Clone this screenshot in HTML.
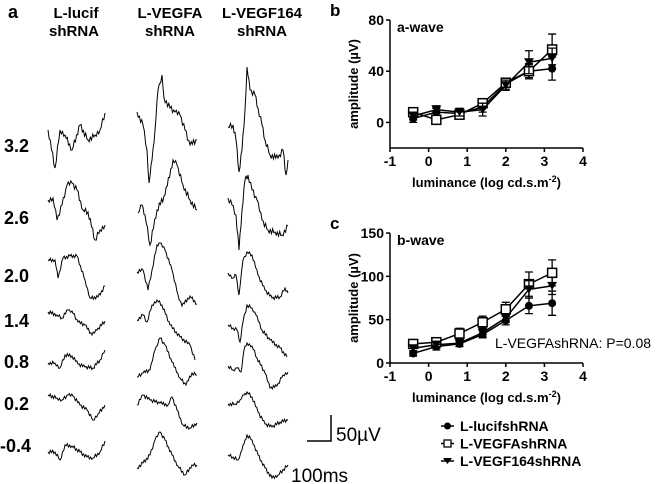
<!DOCTYPE html>
<html><head><meta charset="utf-8"><style>
body{margin:0;background:#fff;}
svg{display:block;font-family:"Liberation Sans",Arial,sans-serif;}
.b{font-weight:bold;}
</style></head><body>
<svg id="fig" width="660" height="484" viewBox="0 0 660 484">
<g id="panelA">
<text x="8" y="18" font-size="18" class="b">a</text>
<text x="76" y="18" font-size="15" class="b" text-anchor="middle">L-lucif</text>
<text x="74" y="36" font-size="15" class="b" text-anchor="middle">shRNA</text>
<text x="170" y="18" font-size="15" class="b" text-anchor="middle">L-VEGFA</text>
<text x="170" y="36" font-size="15" class="b" text-anchor="middle">shRNA</text>
<text x="262" y="18" font-size="15" class="b" text-anchor="middle">L-VEGF164</text>
<text x="262" y="36" font-size="15" class="b" text-anchor="middle">shRNA</text>
<g font-size="18" class="b">
<text x="4" y="152">3.2</text>
<text x="4" y="224">2.6</text>
<text x="4" y="282">2.0</text>
<text x="4" y="327">1.4</text>
<text x="4" y="368">0.8</text>
<text x="4" y="410">0.2</text>
<text x="0" y="452">-0.4</text>
</g>
<path d="M331 415 V441 H307" fill="none" stroke="#000" stroke-width="1.5"/>
<text x="336" y="441" font-size="19">50µV</text>
<text x="291" y="482" font-size="19">100ms</text>
</g>
<g id="panelB"></g>
<g id="panelC"></g>
<g id="legend"></g>
</svg>
<script>
const NS="http://www.w3.org/2000/svg";
const xVals=[-0.4,0.2,0.8,1.4,2.0,2.6,3.2];
const aLucif=[3,8,7,12,30,40,42];
const aLucifErr=[3,3,3,4,4,6,9];
const aVegfa=[8,2,6,15,31,40,57];
const aVegfaErr=[3,3,3,3,3,5,12];
const aVegf164=[5,10,8,10,29,47,50];
const aVegf164Err=[3,3,3,5,4,9,8];
const bLucif=[11,19,22,33,49,66,69];
const bLucifErr=[3,4,3,4,5,9,14];
const bVegfa=[22,24,34,47,62,91,104];
const bVegfaErr=[3,4,6,7,8,14,15];
const bVegf164=[17,21,23,35,52,85,89];
const bVegf164Err=[3,4,4,5,5,10,10];
const xTicks=[-1,0,1,2,3,4];
const aTicks=[0,40,80];
const bTicks=[0,50,100,150];
const seriesNames=["L-lucifshRNA","L-VEGFAshRNA","L-VEGF164shRNA"];

const traces=[
[[48,130],[55,168],[60,130],[65,135],[72,150],[80,125],[88,140],[95,135],[100,130],[105,113]],
[[48,200],[53,198],[57,220],[62,205],[67,185],[72,183],[77,190],[83,210],[88,212],[95,240],[100,230],[105,225]],
[[48,260],[55,260],[58,278],[63,258],[70,256],[77,256],[85,280],[90,298],[98,297],[105,286]],
[[48,312],[57,315],[62,318],[68,310],[72,311],[78,322],[85,325],[92,335],[97,330],[105,321]],
[[48,363],[55,363],[60,368],[65,355],[72,356],[78,364],[85,367],[93,368],[100,360],[105,350]],
[[48,395],[57,398],[62,400],[68,395],[73,396],[80,405],[87,410],[93,420],[98,414],[105,405]],
[[48,452],[55,452],[60,460],[65,445],[72,446],[80,452],[87,457],[93,458],[100,452],[105,441]],
[[137,112],[143,125],[147,150],[149,183],[152,160],[155,130],[158,90],[162,75],[164,98],[170,108],[175,112],[180,115],[185,130],[190,145],[197,140]],
[[138,213],[142,205],[145,215],[150,245],[157,210],[165,195],[173,160],[177,165],[183,185],[190,200],[197,210]],
[[137,272],[143,270],[148,290],[152,270],[157,245],[160,243],[165,250],[172,270],[178,295],[182,306],[190,296],[197,304]],
[[137,320],[143,315],[147,322],[152,305],[157,300],[162,305],[170,325],[180,337],[190,345],[195,360]],
[[137,377],[143,373],[150,370],[155,350],[160,338],[165,345],[172,362],[180,378],[186,385],[192,373],[197,375]],
[[137,405],[143,395],[150,400],[160,403],[168,405],[172,397],[177,410],[183,425],[190,428],[197,423]],
[[137,468],[143,463],[150,455],[155,440],[160,432],[165,440],[172,455],[178,466],[185,475],[192,465],[197,465]],
[[228,127],[233,125],[236,140],[239,172],[242,150],[245,110],[247,67],[250,90],[255,95],[258,108],[262,125],[265,140],[270,155],[278,158],[283,150],[286,175],[288,160]],
[[228,198],[232,205],[236,215],[239,250],[242,210],[245,180],[248,175],[252,190],[257,200],[262,220],[268,230],[275,232],[282,235],[288,226]],
[[228,273],[233,278],[236,275],[239,295],[243,260],[247,252],[252,255],[258,275],[265,290],[272,298],[280,297],[285,288],[288,293]],
[[228,325],[233,328],[237,330],[240,342],[243,322],[247,305],[252,308],[256,315],[262,330],[270,340],[280,348],[287,357]],
[[228,366],[233,370],[237,368],[241,372],[244,350],[247,343],[252,346],[257,358],[265,373],[270,388],[277,386],[283,375],[288,372]],
[[228,404],[235,404],[240,400],[244,395],[247,392],[252,397],[258,412],[265,424],[272,427],[280,422],[288,420]],
[[228,455],[233,457],[238,460],[242,450],[245,440],[247,435],[252,440],[258,455],[265,468],[272,478],[278,475],[288,465]]
];
function mk(tag,attrs,parent){const e=document.createElementNS(NS,tag);for(const k in attrs)e.setAttribute(k,attrs[k]);parent.appendChild(e);return e;}
const pA=document.getElementById("panelA");
traces.forEach((t,ti)=>{
  let d="";let n=0;
  const big=(ti<2||ti===7||ti===8||ti===14||ti===15)?2.6:1.6;
  for(let i=0;i<t.length-1;i++){
    const [x0,y0]=t[i],[x1,y1]=t[i+1];
    const steps=Math.max(1,Math.round((x1-x0)/1.2));
    for(let s=0;s<steps;s++){
      const f=s/steps;const j=((n%2)?big:-big)*(((n*7+ti)%3===0)?0.4:1);
      d+=(d?"L":"M")+(x0+(x1-x0)*f).toFixed(1)+" "+(y0+(y1-y0)*f+(s?j:0)).toFixed(1);n++;
    }
  }
  const l=t[t.length-1];d+="L"+l[0]+" "+l[1];
  const p=mk("path",{d:d,fill:"none",stroke:"#000","stroke-width":1},pA);
  
  
});

function marker(g,type,x,y){
  let m;
  if(type===0)m=mk("circle",{cx:x,cy:y,r:4,fill:"#000"},g);
  else if(type===1)m=mk("rect",{x:x-4.5,y:y-4.5,width:9,height:9,fill:"#fff",stroke:"#000","stroke-width":1.5},g);
  else m=mk("path",{d:`M${x-5} ${y-4}L${x+5} ${y-4}L${x} ${y+4}Z`,fill:"#000"},g);
  
  
}
function panel(gid,label,wave,y0px,y1px,yMin,yMax,ticks,series,errs){
  const g=document.getElementById(gid);
  const x0=390,x1=583;
  const sx=v=>x0+(v+1)/5*(x1-x0);
  const sy=v=>y1px-(v-yMin)/(yMax-yMin)*(y1px-y0px);
  const ax=mk("path",{d:`M${x0} ${y0px}V${y1px}H${x1}`,fill:"none",stroke:"#000","stroke-width":1.5},g);
  
  
  ticks.forEach(t=>{
    mk("line",{x1:x0-4,x2:x0,y1:sy(t),y2:sy(t),stroke:"#000","stroke-width":1.5},g);
    const tx=mk("text",{x:x0-6,y:sy(t)+5,"font-size":14,"font-weight":"bold","text-anchor":"end"},g);tx.textContent=t;
    
    
  });
  xTicks.forEach(t=>{
    mk("line",{x1:sx(t),x2:sx(t),y1:y1px,y2:y1px+4,stroke:"#000","stroke-width":1.5},g);
    const tx=mk("text",{x:sx(t),y:y1px+18,"font-size":14,"font-weight":"bold","text-anchor":"middle"},g);tx.textContent=t;
    
    
  });
  const pl=mk("text",{x:330,y:y0px-4,"font-size":17,"font-weight":"bold"},g);pl.textContent=label;
  
  
  const wl=mk("text",{x:x0+7,y:y0px+12,"font-size":14,"font-weight":"bold"},g);wl.textContent=wave;
  
  
  const xt=mk("text",{x:(x0+x1)/2,y:y1px+39,"font-size":13,"font-weight":"bold","text-anchor":"middle"},g);
  xt.innerHTML='luminance (log cd.s.m<tspan dy="-5" font-size="9">-2</tspan><tspan dy="5">)</tspan>';
  
  
  const cy=(y0px+y1px)/2;
  const yt=mk("text",{x:358,y:cy,"font-size":13,"font-weight":"bold","text-anchor":"middle",transform:`rotate(-90 358 ${cy})`},g);
  yt.textContent="amplitude (µV)";
  
  
  series.forEach((s,si)=>{
    const sg=mk("g",{},g);
    
    
    const pts=s.map((v,i)=>sx(xVals[i])+","+sy(v)).join(" ");
    const ln=mk("polyline",{points:pts,fill:"none",stroke:"#000","stroke-width":1.5},sg);
    
    
    s.forEach((v,i)=>{
      const e=errs[si][i],x=sx(xVals[i]);
      const eb=mk("path",{d:`M${x} ${sy(v-e)}V${sy(v+e)}M${x-4} ${sy(v-e)}H${x+4}M${x-4} ${sy(v+e)}H${x+4}`,stroke:"#000","stroke-width":1.3,fill:"none"},sg);
      
      
    });
    s.forEach((v,i)=>marker(sg,si,sx(xVals[i]),sy(v)));
  });
  return g;
}
panel("panelB","b","a-wave",20,148,-20,80,aTicks,[aLucif,aVegfa,aVegf164],[aLucifErr,aVegfaErr,aVegf164Err]);
const gc=panel("panelC","c","b-wave",233,363,0,150,bTicks,[bLucif,bVegfa,bVegf164],[bLucifErr,bVegfaErr,bVegf164Err]);
const pt=mk("text",{x:495,y:348,"font-size":14},gc);pt.textContent="L-VEGFAshRNA: P=0.08";


const lg=document.getElementById("legend");
seriesNames.forEach((n,i)=>{
  const y=426+i*17.5;
  const en=mk("g",{},lg);
  
  
  mk("line",{x1:441,x2:454,y1:y,y2:y,stroke:"#000","stroke-width":1.5},en);
  if(i===0)mk("circle",{cx:447.5,cy:y,r:3.5,fill:"#000"},en);
  else if(i===1)mk("rect",{x:444,y:y-3.5,width:7,height:7,fill:"#fff",stroke:"#000","stroke-width":1.3},en);
  else mk("path",{d:`M443 ${y-3}L452 ${y-3}L447.5 ${y+3}Z`,fill:"#000"},en);
  const t=mk("text",{x:460,y:y+5,"font-size":14,"font-weight":"bold"},en);t.textContent=n;
});
</script>
</body></html>
